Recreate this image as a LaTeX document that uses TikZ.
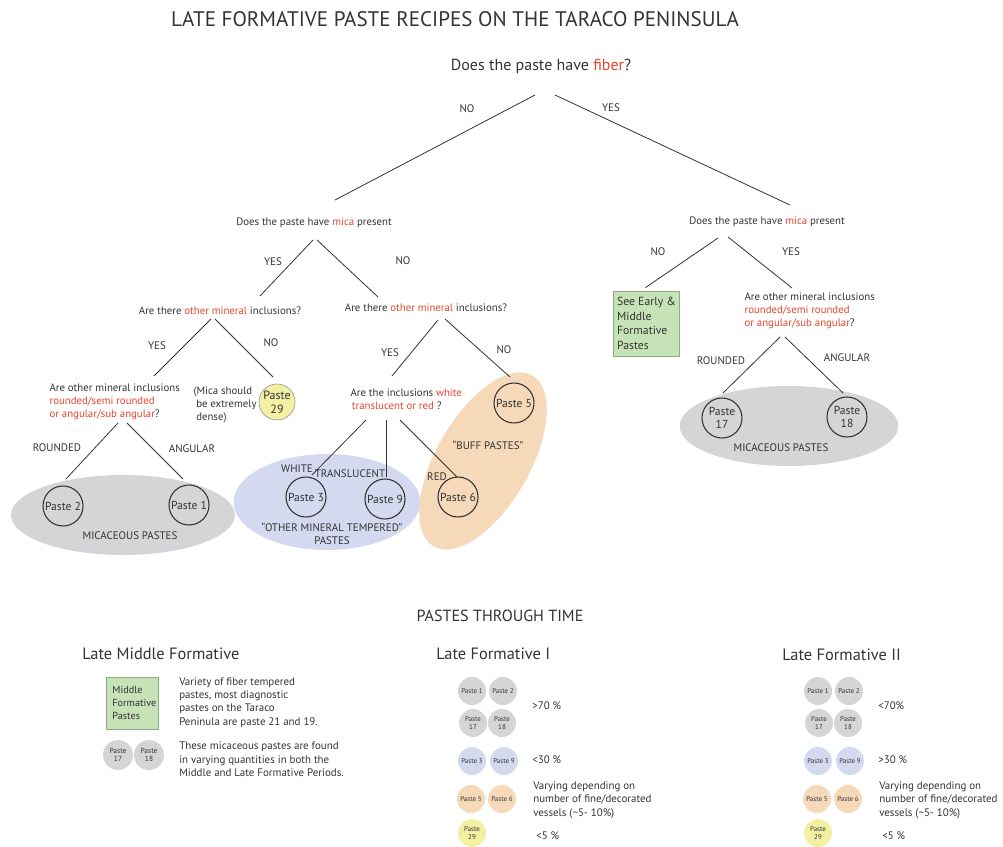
\documentclass[tikz,border=0pt]{standalone}
\usepackage{fontspec}
\setmainfont{PT Sans}
\usetikzlibrary{calc}
\definecolor{Ink}{HTML}{333333}
\definecolor{HiRed}{HTML}{E8452C}
\definecolor{MicaGray}{HTML}{D5D5D7}
\definecolor{MinBlue}{HTML}{D4D9EF}
\definecolor{BuffOrange}{HTML}{F5D9B8}
\definecolor{DenseYellow}{HTML}{F3F0A4}
\definecolor{FiberGreen}{HTML}{C6E3B8}
\definecolor{FiberEdge}{HTML}{8FAA85}
\newcommand{\redword}[1]{\textcolor{HiRed}{#1}}

\begin{document}
\begin{tikzpicture}[x=0.75pt, y=-0.75pt,
      qtext/.style={font=\fontsize{8.1}{9.75}\selectfont, text=Ink,
                    align=left, inner sep=1pt},
      lbl/.style={font=\fontsize{8.2}{10}\selectfont, text=Ink,
                  inner sep=1pt, align=center},
      branch/.style={draw=Ink, line width=0.6pt},
      paste/.style={circle, draw=Ink, line width=0.8pt, minimum size=30pt,
                    inner sep=0pt, font=\fontsize{8.7}{10}\selectfont,
                    text=Ink, align=center},
      chip/.style={circle, minimum size=21pt, inner sep=0pt,
                   font=\fontsize{5.2}{6}\selectfont, text=Ink, align=center},
      legtext/.style={font=\fontsize{8.2}{10}\selectfont, text=Ink,
                      align=left, inner sep=0pt, anchor=west},
      period/.style={font=\fontsize{12.3}{14}\selectfont, text=Ink,
                     anchor=west, inner sep=0pt}]

  \useasboundingbox (0,0) rectangle (1003,846);

  % groups behind the pastes
  \fill[MicaGray] (123,515) ellipse [x radius=84pt, y radius=30pt];
  \fill[MicaGray] (789,426) ellipse [x radius=82pt, y radius=30pt];
  \fill[MinBlue] (327,502) ellipse [x radius=70pt, y radius=36pt];
  \fill[BuffOrange, rotate around={60:(483,461)}] (483,461)
        ellipse [x radius=74pt, y radius=35pt];

  \node[font=\fontsize{15.8}{18}\selectfont, text=Ink] (title) at (455,19)
        {LATE FORMATIVE PASTE RECIPES ON THE TARACO PENINSULA};

  % the key
  \node[qtext, font=\fontsize{12}{14}\selectfont] (qfiber) at (541,66)
        {Does the paste have \redword{fiber}?};
  \node[qtext] (qmicaL) at (314,223) {Does the paste have \redword{mica} present};
  \node[qtext] (qmicaR) at (767,222) {Does the paste have \redword{mica} present};
  \node[qtext] (qothL) at (220,311) {Are there \redword{other mineral} inclusions?};
  \node[qtext] (qothM) at (426,308) {Are there \redword{other mineral} inclusions?};
  \node[qtext, anchor=west] (qshpL) at (48,402)
        {Are other mineral inclusions\\
         \redword{rounded/semi rounded}\\
         \redword{or angular/sub angular}?};
  \node[qtext, anchor=west] (qshpR) at (743,311)
        {Are other mineral inclusions\\
         \redword{rounded/semi rounded}\\
         \redword{or angular/sub angular}?};
  \node[qtext, anchor=west] (qcol) at (349,399)
        {Are the inclusions \redword{white}\\
         \hspace*{1pt}\redword{translucent or red} ?};
  \node[qtext, anchor=west] (note29) at (192,405)
        {(Mica should\\ \hspace*{2pt}be extremely\\ \hspace*{2pt}dense)};

  \node[draw=FiberEdge, fill=FiberGreen, line width=0.6pt,
        minimum width=48.75pt, minimum height=48.75pt,
        inner sep=2.5pt, align=left, text=Ink,
        font=\fontsize{8.8}{11}\selectfont] (seebox) at (646.5,323.5)
        {See Early \&\\ Middle\\ Formative\\ Pastes};

  \node[paste] (p2) at (63,506) {Paste 2};
  \node[paste] (p1) at (189,505) {Paste 1};
  \node[paste, draw=Ink!50, line width=0.5pt, fill=DenseYellow,
        minimum size=27pt, font=\fontsize{9}{10.5}\selectfont] (p29)
        at (277,402) {Paste\\29};
  \node[paste] (p3) at (306,497) {Paste 3};
  \node[paste] (p9) at (385,499) {Paste 9};
  \node[paste] (p6) at (458,497) {Paste 6};
  \node[paste] (p5) at (514,403) {Paste 5};
  \node[paste] (p17) at (722,418) {Paste\\17};
  \node[paste] (p18) at (847,417) {Paste\\18};

  \draw[branch] ($(qfiber)+(-6,29)$) -- ($(qmicaL)+(21,-23)$);
  \draw[branch] ($(qfiber)+(14,29)$) -- ($(qmicaR)+(23,-17)$);
  \draw[branch] ($(qmicaL)+(-1,17)$) -- ($(qothL)+(40,-15)$);
  \draw[branch] ($(qmicaL)+(3,17)$) -- ($(qothM)+(-48,-11)$);
  \draw[branch] ($(qothL)+(-9,8)$) -- ($(qshpL.west)+(106,-26)$);
  \draw[branch] ($(qothL)+(-5,8)$) -- ($(p29)+(-4,-25)$);
  \draw[branch] ($(qshpL.west)+(70,21)$) -- ($(p2)+(3,-27)$);
  \draw[branch] ($(qshpL.west)+(79,21)$) -- ($(p1)+(-6,-26)$);
  \draw[branch] ($(qothM)+(12,12)$) -- ($(qcol.west)+(43,-23)$);
  \draw[branch] ($(qothM)+(19,11)$) -- ($(p5)+(-4,-26)$);
  \draw[branch] ($(qcol.west)+(17,21)$) -- ($(p3)+(6,-22)$);
  \draw[branch] ($(qcol.west)+(37,21)$) -- ($(p9)+(1,-22)$);
  \draw[branch] ($(qcol.west)+(51,21)$) -- ($(p6)+(-1,-20)$);
  \draw[branch] ($(qmicaR)+(-49,16)$) -- ($(seebox.north)+(-1,-3)$);
  \draw[branch] ($(qmicaR)+(-39,15)$) -- ($(qshpR.west)+(49,-23)$);
  \draw[branch] ($(qshpR.west)+(37,26)$) -- ($(p17)+(1,-25)$);
  \draw[branch] ($(qshpR.west)+(42,26)$) -- ($(p18)+(-4,-24)$);

  \node[lbl] (noA) at (467,109) {NO};
  \node[lbl] (yesA) at (611,108) {YES};
  \node[lbl] (yesB) at (273,262) {YES};
  \node[lbl] (noB) at (403,261) {NO};
  \node[lbl] (yesC) at (157,346) {YES};
  \node[lbl] (noC) at (271,343) {NO};
  \node[lbl] (rndL) at (57,448) {ROUNDED};
  \node[lbl] (angL) at (192,449) {ANGULAR};
  \node[lbl] (yesD) at (390,353) {YES};
  \node[lbl] (noD) at (504,350) {NO};
  \node[lbl] (white) at (297,469) {WHITE};
  \node[lbl] (transl) at (350,474) {TRANSLUCENT};
  \node[lbl] (red) at (437,477) {RED};
  \node[lbl] (noE) at (658,252) {NO};
  \node[lbl] (yesE) at (791,252) {YES};
  \node[lbl] (rndR) at (721,361) {ROUNDED};
  \node[lbl] (angR) at (847,358) {ANGULAR};

  \node[lbl] (micaL) at (130,536) {MICACEOUS PASTES};
  \node[lbl] (micaR) at (781,448) {MICACEOUS PASTES};
  \node[lbl] (othmin) at (332,534) {“OTHER MINERAL TEMPERED”\\PASTES};
  \node[lbl] (buff) at (488,445) {“BUFF PASTES”};

  % pastes through time
  \node[font=\fontsize{12.1}{14}\selectfont, text=Ink] (ptt) at (500,616)
        {PASTES THROUGH TIME};

  \node[period] (lmf) at (82,654) {Late Middle Formative};
  \node[period] (lfi) at (436,654) {Late Formative I};
  \node[period] (lfii) at (782,655) {Late Formative II};

  \node[draw=FiberEdge, fill=FiberGreen, line width=0.6pt, anchor=north west,
        minimum width=39pt, minimum height=39pt, text width=30pt,
        inner xsep=4.5pt, align=left, text=Ink,
        font=\fontsize{7.7}{9.75}\selectfont] (mfbox) at (106,677)
        {Middle\\ Formative\\ Pastes};
  \node[legtext] (mftext) at (179,702.5)
        {Variety of fiber tempered\\ pastes, most diagnostic\\
         pastes on the Taraco\\ Peninula are paste 21 and 19.};
  \node[chip, fill=MicaGray, minimum size=22.5pt,
        font=\fontsize{5.6}{6.5}\selectfont] (lm17) at (118,755) {Paste\\17};
  \node[chip, fill=MicaGray, minimum size=22.5pt,
        font=\fontsize{5.6}{6.5}\selectfont] (lm18) at (149,755) {Paste\\18};
  \node[legtext] (mctext) at (179,759.5)
        {These micaceous pastes are found\\ in varying quantities in both the\\
         Middle and Late Formative Periods.};

  \foreach \dx/\tag/\hi/\lo in {0/a/{>70 \%}/{<30 \%}, 346/b/{<70\%}/{>30 \%}} {
    \node[chip, fill=MicaGray] (one\tag) at (472+\dx,691) {Paste 1};
    \node[chip, fill=MicaGray] (two\tag) at (503+\dx,691) {Paste 2};
    \node[chip, fill=MicaGray] (svt\tag) at (473+\dx,723) {Paste\\17};
    \node[chip, fill=MicaGray] (eit\tag) at (502+\dx,723) {Paste\\18};
    \node[legtext] (hi\tag) at (532+\dx,706) {\hi};
    \node[chip, fill=MinBlue] (thr\tag) at (472+\dx,761) {Paste 3};
    \node[chip, fill=MinBlue] (nin\tag) at (504+\dx,761) {Paste 9};
    \node[legtext] (lo\tag) at (532+\dx,760) {\lo};
    \node[chip, fill=BuffOrange] (fiv\tag) at (471+\dx,799) {Paste 5};
    \node[chip, fill=BuffOrange] (six\tag) at (502+\dx,799) {Paste 6};
    \node[legtext] (var\tag) at (533+\dx,800)
          {Varying depending on\\ number of fine/decorated\\
           vessels (\textasciitilde5- 10\%)};
    \node[chip, fill=DenseYellow] (tnn\tag) at (472+\dx,833) {Paste\\29};
    \node[legtext] (few\tag) at (536+\dx,836) {<5 \%};
  }
\end{tikzpicture}
\end{document}
